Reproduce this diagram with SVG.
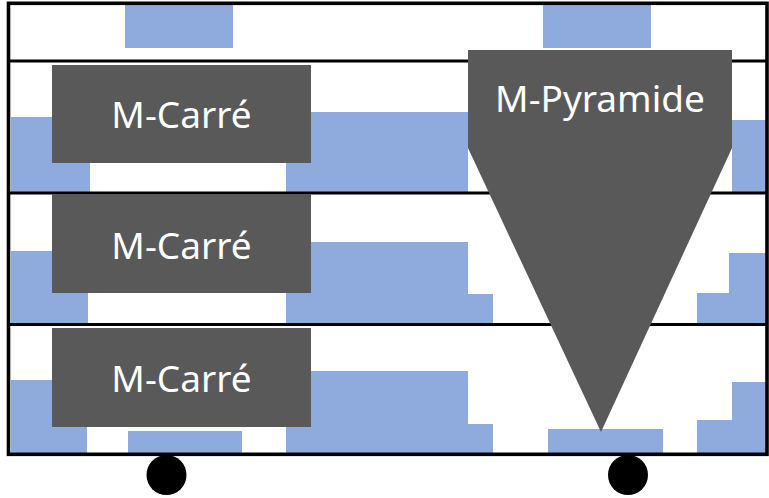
<svg xmlns="http://www.w3.org/2000/svg" width="769" height="498" viewBox="0 0 769 498">
<style>
.blue{fill:#8faadc}
.line{stroke:#000;stroke-width:3;fill:none}
.node{fill:#595959}
.lbl{fill:#fff;font-family:"Noto Sans","Open Sans","DejaVu Sans",sans-serif;font-size:37px;text-anchor:middle}
</style>
<rect x="0" y="0" width="769" height="498" fill="#fff"/>
<g id="blocks">
<rect class="blue" x="125" y="5" width="108" height="43"/>
<rect class="blue" x="543" y="5" width="108" height="43"/>
<rect class="blue" x="11" y="117" width="79" height="75"/>
<rect class="blue" x="286" y="112" width="182" height="80"/>
<rect class="blue" x="732" y="120" width="34" height="72"/>
<rect class="blue" x="11" y="251" width="77" height="73"/>
<rect class="blue" x="286" y="242" width="182" height="82"/>
<rect class="blue" x="286" y="294" width="207" height="30"/>
<rect class="blue" x="729" y="253" width="37" height="71"/>
<rect class="blue" x="697" y="293" width="69" height="31"/>
<rect class="blue" x="11" y="380" width="76" height="73"/>
<rect class="blue" x="128" y="431" width="114" height="22"/>
<rect class="blue" x="286" y="371" width="182" height="82"/>
<rect class="blue" x="286" y="424" width="207" height="29"/>
<rect class="blue" x="548" y="429" width="115" height="24"/>
<rect class="blue" x="732" y="382" width="34" height="71"/>
<rect class="blue" x="697" y="420" width="69" height="33"/>
</g>
<g id="frame">
<line class="line" x1="8" y1="61" x2="767" y2="61"/>
<line class="line" x1="8" y1="193" x2="767" y2="193"/>
<line class="line" x1="8" y1="324.5" x2="767" y2="324.5"/>
<rect x="8.5" y="3.3" width="758.5" height="451" fill="none" stroke="#000" stroke-width="3.6"/>
</g>
<g id="wheels">
<circle cx="166.5" cy="475" r="20"/>
<circle cx="628" cy="475" r="20"/>
</g>
<g id="carre1">
<rect class="node" x="52" y="65" width="259" height="98"/>
<text class="lbl" x="181.5" y="128">M-Carré</text>
</g>
<g id="carre2">
<rect class="node" x="52" y="194" width="259" height="99"/>
<text class="lbl" x="181.5" y="259">M-Carré</text>
</g>
<g id="carre3">
<rect class="node" x="52" y="328" width="259" height="99"/>
<text class="lbl" x="181.5" y="392">M-Carré</text>
</g>
<g id="pyramide">
<path class="node" d="M468,50 H732 V148 L601,432 L468,148 Z"/>
<text class="lbl" x="600" y="112">M-Pyramide</text>
</g>
</svg>
